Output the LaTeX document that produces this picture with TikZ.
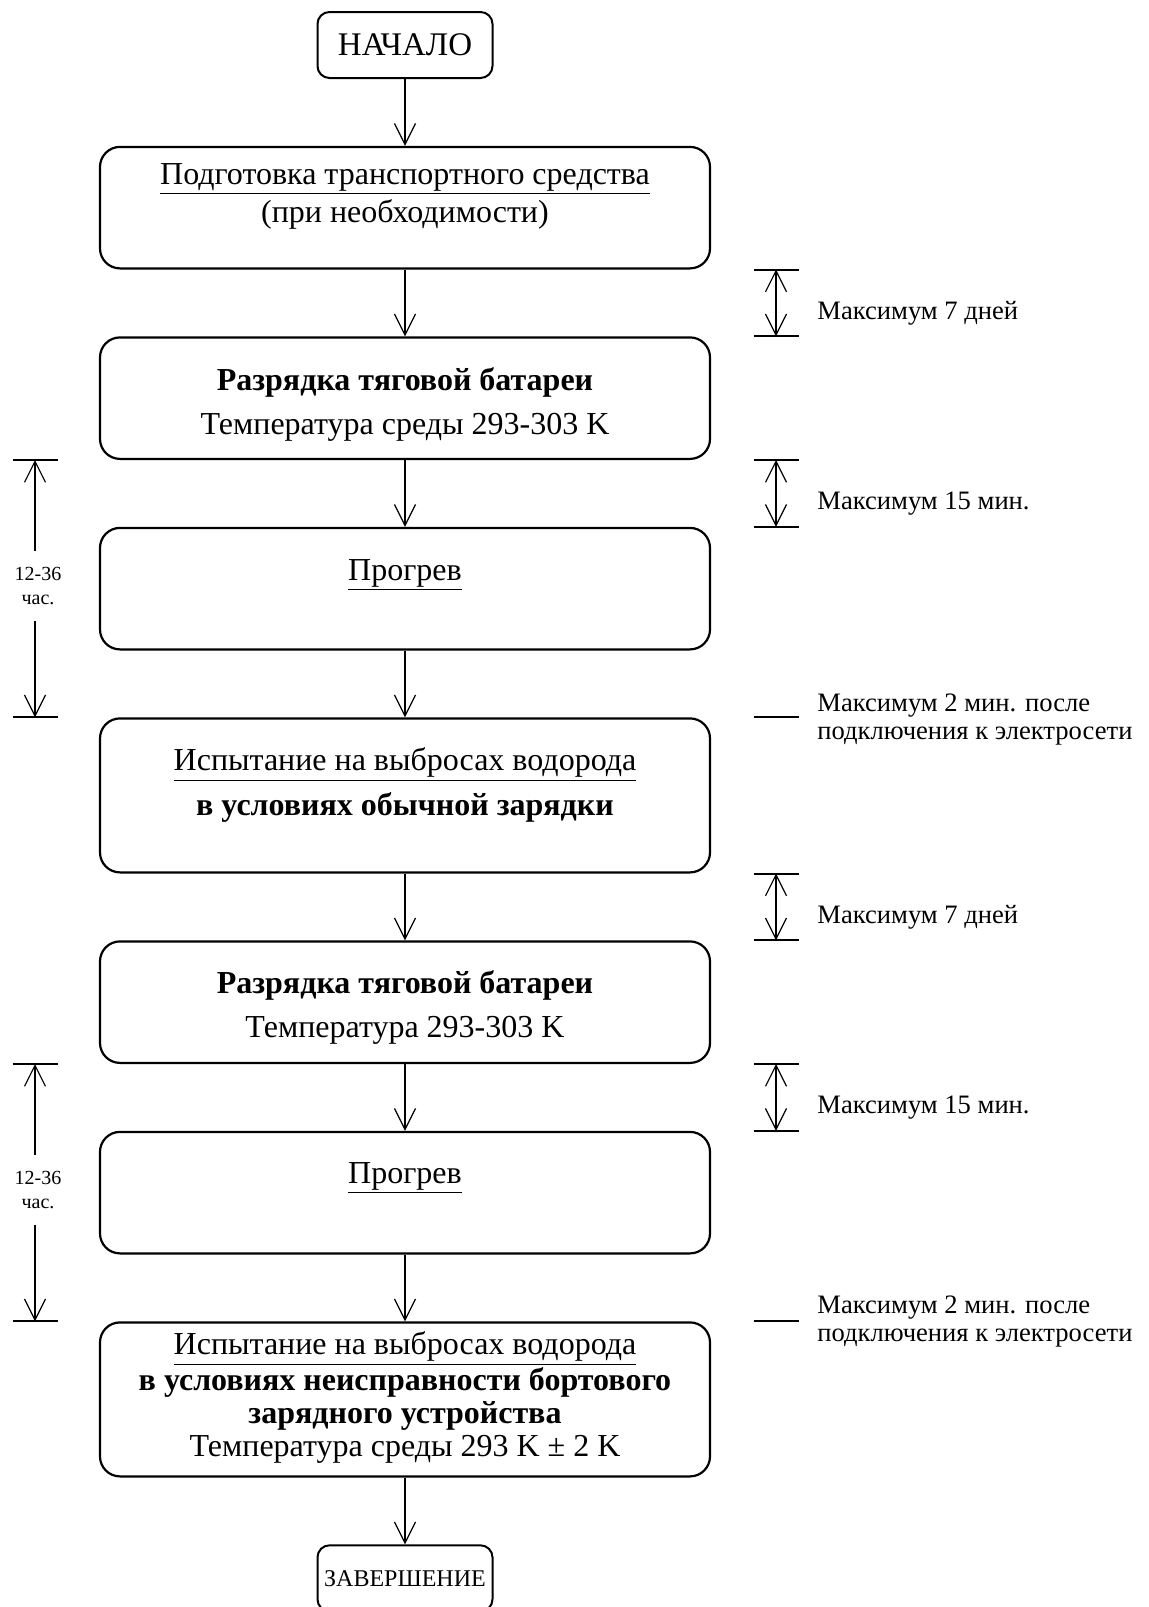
\documentclass[tikz,border=0pt]{standalone}
\usepackage{fontspec}
\setmainfont{Liberation Serif}
\usetikzlibrary{arrows.meta,positioning}

\begin{document}
\begin{tikzpicture}[
  x=0.5pt, y=-0.5pt,
  node distance=33.4pt,
  term/.style={rectangle, rounded corners=6pt, draw, line width=1pt, minimum width=87.5pt, minimum height=33pt, inner sep=0pt, font=\fontsize{16.5}{19}\selectfont},
  block/.style={rectangle, rounded corners=10pt, draw, line width=1.1pt, minimum width=305pt, minimum height=60.75pt},
  tall/.style={block, minimum height=77pt},
  txt/.style={inner sep=0pt, align=center, font=\fontsize{16}{19}\selectfont},
  note/.style={inner sep=0pt, align=left, anchor=west, font=\fontsize{13.3}{14}\selectfont},
  hours/.style={inner xsep=0pt, inner ysep=8pt, align=center, font=\fontsize{10}{12.3}\selectfont},
  flow/.style={line width=0.6pt, -{Straight Barb[length=10.5pt,width=10.5pt]}},
  span/.style={line width=0.6pt, {Straight Barb[length=10.5pt,width=10.5pt]}-{Straight Barb[length=10.5pt,width=10.5pt]}},
  tick/.style={line width=1pt}
  ]
  \useasboundingbox (0,0) rectangle (1149,1607);
  \clip (0,0) rectangle (1149,1607);

  \node[term] (start) at (405,45) {НАЧАЛО};
  \node[block, below=of start] (prep) {};
  \node[block, below=of prep] (dis1) {};
  \node[block, below=of dis1] (heat1) {};
  \node[tall, below=of heat1] (test1) {};
  \node[block, below=of test1] (dis2) {};
  \node[block, below=of dis2] (heat2) {};
  \node[tall, below=of heat2] (test2) {};
  \node[term, below=of test2, font=\fontsize{12}{14}\selectfont] (stop) {ЗАВЕРШЕНИЕ};

  \node[txt, below=8.5pt of prep.north] (prept) {\underline{Подготовка транспортного средства}\\(при необходимости)};
  \node[txt, below=15.5pt of dis1.north] (dis1t) {\textbf{Разрядка тяговой батареи}\\[3pt]Температура среды 293-303 K};
  \node[txt, below=16pt of heat1.north] (heat1t) {\underline{Прогрев}};
  \node[txt, below=15pt of test1.north] (test1t) {\underline{Испытание на выбросах водорода}\\[3.5pt]\textbf{в условиях обычной зарядки}};
  \node[txt, below=15pt of dis2.north] (dis2t) {\textbf{Разрядка тяговой батареи}\\[3pt]Температура 293-303 K};
  \node[txt, below=15.5pt of heat2.north] (heat2t) {\underline{Прогрев}};
  \node[txt, below=5pt of test2.north] (test2t) {\underline{Испытание на выбросах водорода}\\[-1pt]\textbf{в условиях неисправности бортового}\\[-2.5pt]\textbf{зарядного устройства}\\[-2.5pt]Температура среды 293 K ± 2 K};

  \draw[flow] (start) -- (prep);
  \draw[flow] (prep) -- (dis1);
  \draw[flow] (dis1) -- (heat1);
  \draw[flow] (heat1) -- (test1);
  \draw[flow] (test1) -- (dis2);
  \draw[flow] (dis2) -- (heat2);
  \draw[flow] (heat2) -- (test2);
  \draw[flow] (test2) -- (stop);

  \coordinate (rx) at (776,0);
  \coordinate (lx) at (35,0);

  \draw[tick] (prep.south -| rx) ++(-22.5,0) -- ++(45,0);
  \draw[tick] (dis1.north -| rx) ++(-22.5,0) -- ++(45,0);
  \draw[span] (prep.south -| rx) -- (dis1.north -| rx);
  \node[note] (n1) at (817,313) {Максимум 7 дней};

  \draw[tick] (dis1.south -| rx) ++(-22.5,0) -- ++(45,0);
  \draw[tick] (heat1.north -| rx) ++(-22.5,0) -- ++(45,0);
  \draw[span] (dis1.south -| rx) -- (heat1.north -| rx);
  \node[note] (n2) at (817,504) {Максимум 15 мин.};

  \draw[tick] (test1.north -| rx) ++(-22.5,0) -- ++(45,0);
  \node[note] (n3) at (817,720) {Максимум 2 мин. после\\подключения к электросети};

  \draw[tick] (test1.south -| rx) ++(-22.5,0) -- ++(45,0);
  \draw[tick] (dis2.north -| rx) ++(-22.5,0) -- ++(45,0);
  \draw[span] (test1.south -| rx) -- (dis2.north -| rx);
  \node[note] (n4) at (817,917) {Максимум 7 дней};

  \draw[tick] (dis2.south -| rx) ++(-22.5,0) -- ++(45,0);
  \draw[tick] (heat2.north -| rx) ++(-22.5,0) -- ++(45,0);
  \draw[span] (dis2.south -| rx) -- (heat2.north -| rx);
  \node[note] (n5) at (817,1108) {Максимум 15 мин.};

  \draw[tick] (test2.north -| rx) ++(-22.5,0) -- ++(45,0);
  \node[note] (n6) at (817,1322) {Максимум 2 мин. после\\подключения к электросети};

  \draw[tick] (dis1.south -| lx) ++(-22.5,0) -- ++(45,0);
  \draw[tick] (test1.north -| lx) ++(-22.5,0) -- ++(45,0);
  \node[hours] (h1) at (38,586) {12-36\\час.};
  \draw[flow] (h1.north -| lx) -- (dis1.south -| lx);
  \draw[flow] (h1.south -| lx) -- (test1.north -| lx);

  \draw[tick] (dis2.south -| lx) ++(-22.5,0) -- ++(45,0);
  \draw[tick] (test2.north -| lx) ++(-22.5,0) -- ++(45,0);
  \node[hours] (h2) at (38,1190) {12-36\\час.};
  \draw[flow] (h2.north -| lx) -- (dis2.south -| lx);
  \draw[flow] (h2.south -| lx) -- (test2.north -| lx);
\end{tikzpicture}
\end{document}
